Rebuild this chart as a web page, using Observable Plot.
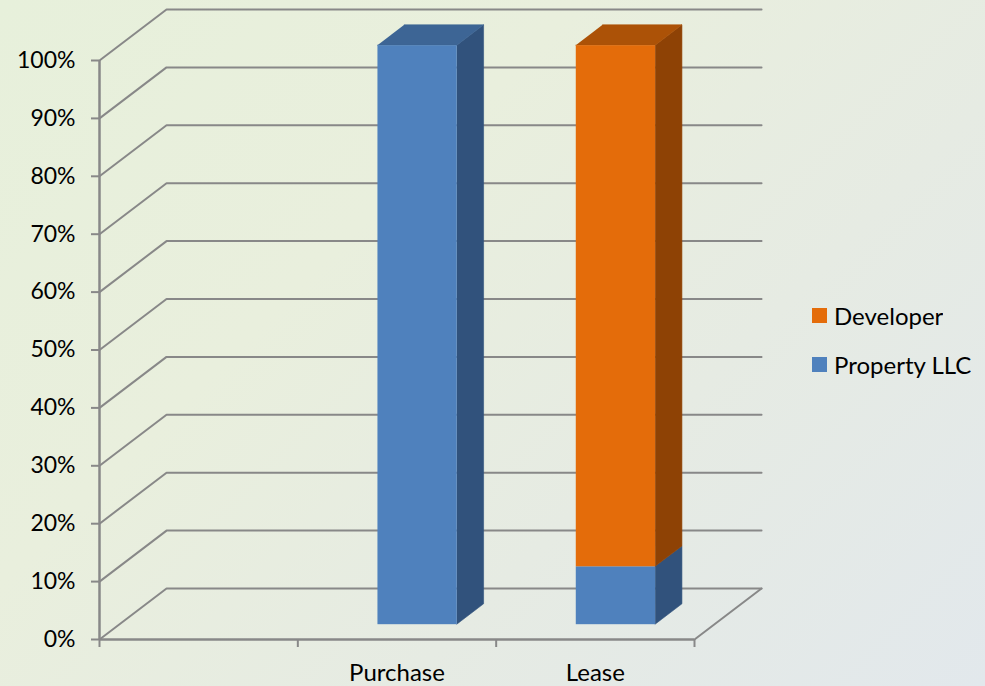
<!DOCTYPE html>
<html>
<head>
<meta charset="utf-8">
<script src="https://cdn.jsdelivr.net/npm/d3@7"></script>
<script src="https://cdn.jsdelivr.net/npm/@observablehq/plot@0.6"></script>
<style>
  html, body { margin: 0; padding: 0; }
  #chart {
    position: relative; width: 985px; height: 686px; overflow: hidden;
    background: linear-gradient(135deg, #e7f0db 0%, #e9efdd 35%, #e6ebe3 65%, #e2e8ec 100%);
    font-family: Lato, sans-serif;
  }
  #chart svg { display: block; background: transparent; }
  #legend { position: absolute; left: 812px; top: 291px; }
  .key-swatches { font: 24px Lato, sans-serif !important; color: #000; }
  .key-swatch { display: flex !important; align-items: center; height: 49px; margin: 0 !important; padding: 0 !important; }
  .key-swatch svg { margin-right: 7px !important; }
</style>
</head>
<body>
<div id="chart"></div>
<script>
// Stacked shares per ownership option; the first slot of the axis is unlabelled and empty.
const categories = ["", "Purchase", "Lease"];
const propertyLLC = [0, 100, 10];
const developer = [0, 0, 90];
const percentTicks = [0, 10, 20, 30, 40, 50, 60, 70, 80, 90, 100];
const legendSeries = ["Developer", "Property LLC"];
const legendColors = ["#e46c0a", "#4f81bd"];

const shades = {
  "Property LLC": {front: "#4f81bd", side: "#31527c", top: "#3d6595"},
  "Developer": {front: "#e46c0a", side: "#8e4205", top: "#ac5207"}
};

// Oblique projection of the chart box: one unit of depth moves a point
// right along the category axis and up along the percent axis.
const skewX = 0.338;
const skewY = 8.81;
const gridColor = "#888888";
const barWidth = 0.4;
const depthNear = 0.3;
const depthFar = 0.7;

const project = (slot, value, depth) => ({x: slot + skewX * depth, y: value + skewY * depth});

// Wall and floor lines of the box.
const gridLines = percentTicks.flatMap((v) => [
  {v, ...project(0, v, 0)},
  {v, ...project(0, v, 1)},
  {v, ...project(3, v, 1)}
]);
const floorEdge = [project(3, 0, 0), project(3, 0, 1)];

// Build the visible faces of each stacked segment.
const fronts = [];
const faces = [];
categories.forEach((cat, i) => {
  const stack = [["Property LLC", propertyLLC[i]], ["Developer", developer[i]]];
  let base = 0;
  for (const [series, share] of stack) {
    if (share > 0) {
      const L = i + 0.5 - barWidth / 2;
      const R = i + 0.5 + barWidth / 2;
      const lo = base;
      const hi = base + share;
      const near = (s, v) => project(s, v, depthNear);
      const far = (s, v) => project(s, v, depthFar);
      const a = near(L, lo), b = near(R, hi);
      fronts.push({x1: a.x, x2: b.x, y1: a.y, y2: b.y, fill: shades[series].front});
      faces.push({
        id: `${cat}-${series}-side`, fill: shades[series].side,
        pts: [near(R, lo), far(R, lo), far(R, hi), near(R, hi)]
      });
      if (hi === 100) {
        faces.push({
          id: `${cat}-${series}-top`, fill: shades[series].top,
          pts: [near(L, hi), near(R, hi), far(R, hi), far(L, hi)]
        });
      }
    }
    base += share;
  }
});
const facePoints = faces.flatMap((f) => f.pts.map((p) => ({...p, id: f.id, fill: f.fill})));

const plot = Plot.plot({
  width: 985,
  height: 686,
  marginLeft: 99,
  marginRight: 291,
  marginTop: 60,
  marginBottom: 47,
  style: {background: "transparent", fontFamily: "Lato, sans-serif", fontSize: "23px", color: "#000", overflow: "visible"},
  x: {domain: [0, 3]},
  y: {domain: [0, 100]},
  marks: [
    Plot.line(gridLines, {x: "x", y: "y", z: "v", stroke: gridColor, strokeWidth: 2}),
    Plot.line(floorEdge, {x: "x", y: "y", stroke: gridColor, strokeWidth: 2}),
    Plot.ruleX([0], {y1: 0, y2: 100, stroke: gridColor, strokeWidth: 2.5}),
    Plot.ruleY([0], {x1: 0, x2: 3, stroke: gridColor, strokeWidth: 2.5}),
    Plot.axisY({ticks: percentTicks, tickFormat: (d) => `${d}%`, tickSize: 8, tickPadding: 16, stroke: gridColor, strokeWidth: 2, label: null, fontSize: 23}),
    Plot.axisX({ticks: [0, 1, 2, 3], tickFormat: () => "", tickSize: 8, stroke: gridColor, strokeWidth: 2, label: null}),
    Plot.axisX({
      ticks: [0.5, 1.5, 2.5],
      tickFormat: (d) => categories[Math.floor(d)],
      tickSize: 0, tickPadding: 24, label: null, fontSize: 24
    }),
    Plot.line(facePoints, {x: "x", y: "y", z: "id", fill: "fill", stroke: "fill", strokeWidth: 0.6}),
    // Lines sit on the half pixel, so the front faces take the same offset to close the seam.
    Plot.rect(fronts, {x1: "x1", x2: "x2", y1: "y1", y2: "y2", fill: "fill", dx: 0.5, dy: 0.5})
  ]
});

const chart = document.getElementById("chart");
chart.appendChild(plot);

// Series key on the right of the plot.
const key = Plot.legend({
  color: {type: "ordinal", domain: legendSeries, range: legendColors},
  legend: "swatches",
  swatchSize: 15,
  columns: 1,
  className: "key"
});
const holder = document.createElement("div");
holder.id = "legend";
holder.appendChild(key);
chart.appendChild(holder);
</script>
</body>
</html>
